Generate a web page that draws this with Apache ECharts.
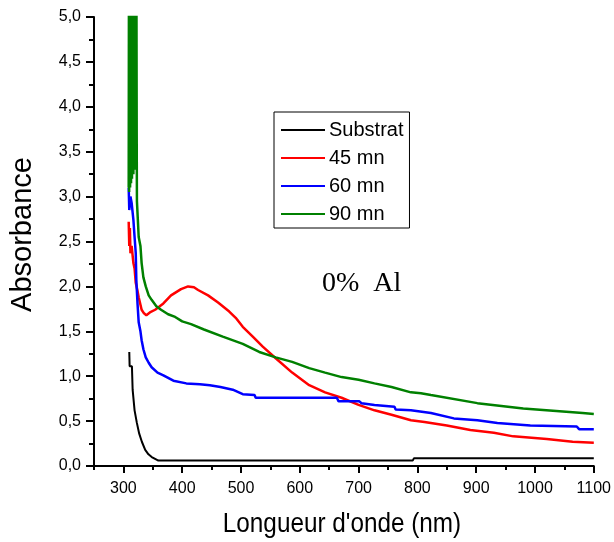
<!DOCTYPE html>
<html>
<head>
<meta charset="utf-8">
<title>Absorbance 0% Al</title>
<script src="https://cdn.jsdelivr.net/npm/echarts@6/dist/echarts.min.js"></script>
<style>
  html, body { margin: 0; padding: 0; background: #fff; }
  #chart { width: 614px; height: 542px; }
</style>
</head>
<body>
<div id="chart"></div>
<script>
// Absorbance spectra, [wavelength (nm), absorbance]
const substrat = [
  [310, 1.27], [310.6, 1.11], [314.5, 1.11], [315.7, 0.85], [318.5, 0.85],
  [319, 0.62], [321.9, 0.62], [322.9, 0.48], [325.8, 0.48], [326.9, 0.36],
  [329.7, 0.35], [331.4, 0.27], [334.2, 0.25], [337.1, 0.18], [342.6, 0.13],
  [348.2, 0.10], [359.5, 0.06], [792, 0.06], [794, 0.085], [1100, 0.085]
];

const mn45 = [
  [309, 2.72], [310, 2.45], [311, 2.65], [312, 2.37], [314, 2.45], [317, 2.26],
  [319, 2.2], [321, 2.04], [324, 1.95], [326, 1.88], [331, 1.74], [335, 1.70],
  [339, 1.68], [345, 1.71], [354, 1.74], [368, 1.81], [381, 1.90], [398, 1.97],
  [410, 2.0], [420, 1.99], [427, 1.96], [444, 1.90], [461, 1.82], [480, 1.72],
  [491, 1.65], [503, 1.55], [520, 1.44], [537, 1.33], [559, 1.20], [587, 1.04],
  [616, 0.90], [643, 0.82], [671, 0.76], [700, 0.68], [727, 0.62], [756, 0.57],
  [789, 0.51], [812, 0.49], [850, 0.45], [890, 0.40], [930, 0.37], [963, 0.33],
  [1020, 0.30], [1064, 0.27], [1100, 0.26]
];

const mn60 = [
  [309, 3.1], [310, 2.85], [312, 3.0], [314, 2.93], [317, 2.74], [319, 2.55],
  [321, 2.37], [322, 2.07], [324, 1.81], [326, 1.60], [329, 1.50], [331, 1.40],
  [334, 1.30], [338, 1.21], [343, 1.15], [348, 1.10], [358, 1.04], [368, 1.01],
  [385, 0.95], [407, 0.92], [430, 0.91], [447, 0.90], [465, 0.88], [486, 0.85],
  [503, 0.80], [523, 0.79], [525, 0.76], [663, 0.76], [666, 0.72], [701, 0.72],
  [705, 0.70], [727, 0.68], [761, 0.66], [763, 0.63], [789, 0.62], [823, 0.59],
  [862, 0.53], [902, 0.51], [936, 0.48], [992, 0.45], [1071, 0.44], [1075, 0.41],
  [1100, 0.41]
];

// the 90 mn sample saturates the detector below ~322 nm (noisy readings above 5)
const mn90 = [
  [309, 3.1], [309.4, 5.3], [309.8, 3.05], [310.2, 5.3], [310.6, 3.2],
  [311, 5.3], [311.4, 3.1], [311.8, 5.3], [312.2, 3.3], [312.6, 5.3],
  [313, 3.15], [313.4, 5.3], [313.8, 3.4], [314.2, 5.3], [314.6, 3.2],
  [315, 5.3], [315.4, 3.3], [315.8, 5.3], [316.2, 3.5], [316.6, 5.3],
  [317, 3.25], [317.4, 5.3], [317.8, 3.4], [318.2, 5.3], [318.6, 3.3],
  [319, 5.3], [319.4, 3.5], [319.8, 5.3], [320.2, 3.4], [320.6, 5.3],
  [321, 3.3], [321.4, 5.3], [321.8, 3.6], [322.2, 5.2], [322.6, 3.7],
  [323, 2.95], [325, 2.93], [326, 2.55], [329, 2.45],
  [331, 2.26], [334, 2.1], [338, 2.0], [343, 1.9], [348, 1.85], [356, 1.78],
  [364, 1.74], [376, 1.69], [388, 1.66], [400, 1.61], [415, 1.58], [437, 1.52],
  [469, 1.44], [503, 1.36], [531, 1.27], [559, 1.21], [587, 1.16], [616, 1.09],
  [643, 1.04], [671, 0.99], [700, 0.96], [727, 0.92], [756, 0.88], [789, 0.82],
  [806, 0.81], [823, 0.79], [902, 0.70], [980, 0.64], [1081, 0.59], [1100, 0.58]
];

const seriesNames = ['Substrat', '45 mn', '60 mn', '90 mn'];
const seriesColors = ['#000000', '#ff0000', '#0000ff', '#008000'];
const seriesWidths = [2, 2.5, 2.5, 2.5];
const seriesData = [substrat, mn45, mn60, mn90];

const xMajorTicks = [300, 400, 500, 600, 700, 800, 900, 1000, 1100];
const xMinorTicks = [250, 350, 450, 550, 650, 750, 850, 950, 1050];

const font = 'Arial, "Liberation Sans", sans-serif';

const chart = echarts.init(document.getElementById('chart'));

chart.setOption({
  animation: false,
  backgroundColor: '#ffffff',
  grid: { left: 92, right: 20, top: 17, bottom: 76, containLabel: false },
  legend: {
    orient: 'vertical',
    left: 274,
    top: 112,
    padding: [8, 6, 4, 7],
    borderColor: '#000',
    borderWidth: 1,
    icon: 'rect',
    itemWidth: 44,
    itemHeight: 2,
    itemGap: 8,
    data: seriesNames,
    textStyle: { fontFamily: font, fontSize: 20, color: '#000', lineHeight: 20, padding: [0, 0, 0, -1] }
  },
  xAxis: [
    {
      type: 'value',
      min: 250,
      max: 1100,
      axisLine: { show: true, onZero: false, lineStyle: { color: '#000', width: 2 } },
      axisTick: { show: true, inside: false, length: 7, customValues: xMajorTicks, lineStyle: { color: '#000', width: 2 } },
      axisLabel: {
        customValues: xMajorTicks,
        margin: 15,
        fontFamily: font,
        fontSize: 16,
        color: '#000',
        formatter: v => String(v)
      },
      splitLine: { show: false }
    },
    {
      type: 'value',
      min: 250,
      max: 1100,
      position: 'bottom',
      axisLine: { show: false },
      axisTick: { show: true, inside: false, length: 4, customValues: xMinorTicks, lineStyle: { color: '#000', width: 2 } },
      axisLabel: { show: false },
      splitLine: { show: false }
    }
  ],
  yAxis: {
    type: 'value',
    min: 0,
    max: 5,
    interval: 0.5,
    name: 'Absorbance',
    nameLocation: 'middle',
    nameGap: 57,
    nameTextStyle: { fontFamily: font, fontSize: 29, color: '#000', padding: [0, 0, 0, 14] },
    axisLine: { show: true, lineStyle: { color: '#000', width: 2 } },
    axisTick: { show: true, inside: false, length: 8, lineStyle: { color: '#000', width: 2 } },
    minorTick: { show: true, splitNumber: 2, length: 5, lineStyle: { color: '#000', width: 2 } },
    axisLabel: {
      margin: 13,
      fontFamily: font,
      fontSize: 16,
      color: '#000',
      formatter: v => v.toFixed(1).replace('.', ',')
    },
    splitLine: { show: false }
  },
  graphic: [
    {
      // x-axis title, drawn slightly condensed
      type: 'text',
      x: 342,
      y: 525,
      scaleX: 0.9,
      style: {
        text: 'Longueur d\'onde (nm)',
        font: '27px Arial, "Liberation Sans", sans-serif',
        fill: '#000',
        align: 'center',
        verticalAlign: 'middle'
      }
    },
    {
      type: 'text',
      x: 322,
      y: 284,
      style: {
        text: '0%  Al',
        font: '28px "Liberation Serif", "Times New Roman", serif',
        fill: '#000',
        align: 'left',
        verticalAlign: 'middle'
      }
    }
  ],
  series: seriesNames.map((name, i) => ({
    name: name,
    type: 'line',
    xAxisIndex: 0,
    data: seriesData[i],
    symbol: 'none',
    clip: true,
    color: seriesColors[i],
    lineStyle: { color: seriesColors[i], width: seriesWidths[i] },
    z: 2 + i
  }))
});
</script>
</body>
</html>
